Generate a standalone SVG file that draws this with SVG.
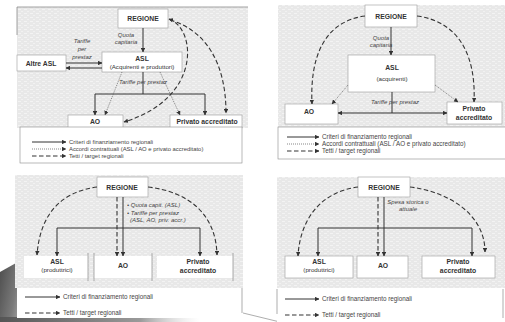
<svg xmlns="http://www.w3.org/2000/svg" width="505" height="322" viewBox="0 0 505 322">
  <defs>
    <pattern id="tex" width="6" height="4" patternUnits="userSpaceOnUse">
      <rect width="6" height="4" fill="#e8e8e8"/>
      <rect x="0" y="1" width="3" height="1" fill="#f3f3f3"/>
      <rect x="3" y="3" width="2" height="1" fill="#f1f1f1"/>
    </pattern>
    <linearGradient id="deco" x1="0" y1="0" x2="1" y2="0.4">
      <stop offset="0" stop-color="#4a4a4a"/>
      <stop offset="0.6" stop-color="#7a7a7a"/>
      <stop offset="1" stop-color="#b5b5b5"/>
    </linearGradient>
    <linearGradient id="band" x1="0" y1="0" x2="1" y2="0">
      <stop offset="0" stop-color="#555"/>
      <stop offset="0.7" stop-color="#9a9a9a"/>
      <stop offset="1" stop-color="#d8d8d8" stop-opacity="0"/>
    </linearGradient>
    <marker id="ah" viewBox="0 0 6 6" refX="5.5" refY="3" markerWidth="4.5" markerHeight="4.5" markerUnits="userSpaceOnUse" orient="auto-start-reverse">
      <path d="M0,0 L6,3 L0,6 z" fill="#333"/>
    </marker>
  </defs>
  <style>
    .bg { fill: url(#tex); }
    .box { fill: #fff; stroke: #9c9c9c; stroke-width: 0.6; }
    .leg { fill: #fff; stroke: #8a8a8a; stroke-width: 0.6; }
    .sep { stroke: #8a8a8a; stroke-width: 0.7; fill: none; }
    .ln { stroke: #333; stroke-width: 1; fill: none; }
    .dot { stroke: #555; stroke-width: 0.7; stroke-dasharray: 1 1; fill: none; }
    .dash { stroke: #333; stroke-width: 1.1; stroke-dasharray: 4.5 2.5; fill: none; }
    text { font-family: "Liberation Sans", Arial, sans-serif; fill: #333; }
    .nb { font-size: 6.8px; font-weight: bold; text-anchor: middle; }
    .nr { font-size: 6.2px; text-anchor: middle; }
    .it { font-size: 6px; font-style: italic; fill: #444; }
    .lt { font-size: 5.9px; fill: #444; }
    .lt2 { font-size: 6.3px; fill: #444; }
  </style>

  <!-- page decoration, lower left -->
  <polygon points="0,272 32,254 32,322 0,322" fill="url(#deco)"/>
  <rect x="0" y="317" width="200" height="5" fill="url(#band)"/>
  <line x1="243" y1="313" x2="280" y2="322" stroke="#777" stroke-width="0.6"/>

  <!-- ===== Panel 1: ASL acquirenti e produttori ===== -->
  <g id="panel1">
    <rect class="bg" x="17" y="7" width="231" height="121"/>
    <path d="M17,35 V7 H248" stroke="#8a8a8a" stroke-width="0.8" fill="none"/>
    <g id="p1-regione"><rect class="box" x="118" y="9" width="50" height="19"/><text class="nb" x="143" y="21">REGIONE</text></g>
    <g id="p1-asl"><rect class="box" x="102" y="52" width="80" height="20"/><text class="nb" x="142" y="61">ASL</text><text class="nr" x="142" y="69">(Acquirenti e produttori)</text></g>
    <g id="p1-altre"><rect class="box" x="17" y="55" width="49" height="16"/><text class="nb" x="41" y="65.5">Altre ASL</text></g>
    <g id="p1-ao"><rect class="box" x="68" y="115" width="55" height="13"/><text class="nb" x="95" y="124">AO</text></g>
    <g id="p1-priv"><rect class="box" x="170" y="115" width="72" height="13"/><text class="nb" x="207" y="124">Privato accreditato</text></g>
    <g id="p1-connectors">
      <line class="ln" x1="143" y1="28" x2="143" y2="52" marker-end="url(#ah)"/>
      <line class="ln" x1="66" y1="63" x2="102" y2="63" marker-end="url(#ah)"/>
      <line class="ln" x1="102" y1="68" x2="66" y2="68" marker-end="url(#ah)"/>
      <path class="ln" d="M143,72 V94"/>
      <path class="ln" d="M95,115 V94 H205 V115" marker-start="url(#ah)" marker-end="url(#ah)"/>
      <line class="dot" x1="122" y1="72" x2="105" y2="115" marker-end="url(#ah)"/>
      <line class="dot" x1="160" y1="72" x2="180" y2="115" marker-end="url(#ah)"/>
      <path class="dash" d="M169,19 C196,28 203,98 124,122" marker-start="url(#ah)" marker-end="url(#ah)"/>
      <path class="dash" d="M170,20 C205,30 226,62 226,113" marker-end="url(#ah)"/>
    </g>
    <text class="it" x="126" y="37" text-anchor="middle">Quota</text>
    <text class="it" x="126" y="44" text-anchor="middle">capitaria</text>
    <text class="it" x="82" y="43" text-anchor="middle">Tariffe</text>
    <text class="it" x="82" y="51" text-anchor="middle">per</text>
    <text class="it" x="82" y="58.5" text-anchor="middle">prestaz</text>
    <text class="it" x="143" y="84" text-anchor="middle">Tariffe per prestaz</text>
    <g id="p1-legend">
      <rect class="leg" x="20" y="127" width="222" height="36"/>
      <line class="ln" x1="32" y1="142" x2="66" y2="142" marker-end="url(#ah)"/>
      <text class="lt" x="69" y="144">Criteri di finanziamento regionali</text>
      <line class="dot" x1="32" y1="149" x2="66" y2="149" marker-end="url(#ah)"/>
      <text class="lt" x="69" y="151">Accordi contrattuali (ASL / AO e privato accreditato)</text>
      <line class="dash" x1="32" y1="156" x2="66" y2="156" marker-end="url(#ah)"/>
      <text class="lt" x="69" y="158">Tetti / target regionali</text>
    </g>
  </g>

  <!-- ===== Panel 2: ASL acquirenti ===== -->
  <g id="panel2">
    <rect class="bg" x="278" y="5" width="227" height="122"/>
    <g id="p2-regione"><rect class="box" x="365" y="5" width="52" height="22"/><text class="nb" x="391" y="19">REGIONE</text></g>
    <g id="p2-asl"><rect class="box" x="348" y="55" width="87" height="37"/><text class="nb" x="392" y="70">ASL</text><text class="nr" x="392" y="81">(acquirenti)</text></g>
    <g id="p2-ao"><rect class="box" x="285" y="104" width="53" height="20"/><text class="nb" x="309" y="114">AO</text></g>
    <g id="p2-priv"><rect class="box" x="447" y="102" width="55" height="22"/><text class="nb" x="474" y="111">Privato</text><text class="nb" x="474" y="119.5">accreditato</text></g>
    <g id="p2-connectors">
      <line class="ln" x1="391" y1="27" x2="391" y2="55" marker-end="url(#ah)"/>
      <path class="ln" d="M338,113 H447" marker-start="url(#ah)" marker-end="url(#ah)"/>
      <path class="ln" d="M392,92 V113"/>
      <line class="dot" x1="348" y1="85" x2="332" y2="104" marker-end="url(#ah)"/>
      <line class="dot" x1="435" y1="85" x2="458" y2="102" marker-end="url(#ah)"/>
      <path class="dash" d="M365,16 C322,22 310,60 312,104" marker-end="url(#ah)"/>
      <path class="dash" d="M417,16 C462,22 476,60 474,102" marker-end="url(#ah)"/>
    </g>
    <text class="it" x="381" y="40" text-anchor="middle">Quota</text>
    <text class="it" x="381" y="47" text-anchor="middle">capitaria</text>
    <text class="it" x="395" y="104" text-anchor="middle">Tariffe per prestaz</text>
    <g id="p2-legend">
      <rect class="leg" x="278" y="127" width="230" height="32"/>
      <line class="ln" x1="287" y1="137" x2="319" y2="137" marker-end="url(#ah)"/>
      <text class="lt2" x="322" y="139">Criteri di finanziamento regionali</text>
      <line class="dot" x1="287" y1="144" x2="319" y2="144" marker-end="url(#ah)"/>
      <text class="lt2" x="322" y="146">Accordi contrattuali (ASL / AO e privato accreditato)</text>
      <line class="dash" x1="287" y1="151" x2="319" y2="151" marker-end="url(#ah)"/>
      <text class="lt2" x="322" y="153">Tetti / target regionali</text>
    </g>
  </g>

  <!-- ===== Panel 3: tariffe per prestazione ===== -->
  <g id="panel3">
    <rect class="bg" x="15" y="175" width="228" height="113"/>
    <g id="p3-regione"><rect class="box" x="97" y="177" width="51" height="20"/><text class="nb" x="122" y="190">REGIONE</text></g>
    <g id="p3-asl"><rect x="24" y="256" width="64" height="22" fill="#fff"/><text class="nb" x="57" y="264">ASL</text><text class="nr" x="57" y="272">(produttrici)</text></g>
    <g id="p3-ao"><rect x="94" y="256" width="58" height="22" fill="#fff"/><text class="nb" x="123" y="268">AO</text></g>
    <g id="p3-priv"><rect x="157" y="256" width="76" height="22" fill="#fff"/><text class="nb" x="198" y="264">Privato</text><text class="nb" x="198" y="273">accreditato</text></g>
    <path class="sep" d="M88,253 V281 M94,253 V281 M152,253 V281 M233,253 V281"/>
    <g id="p3-connectors">
      <line class="dash" x1="117" y1="197" x2="117" y2="256" marker-end="url(#ah)"/>
      <line class="ln" x1="123" y1="197" x2="123" y2="256" marker-end="url(#ah)"/>
      <path class="ln" d="M57,256 V228 H200 V256" marker-start="url(#ah)" marker-end="url(#ah)"/>
      <path class="dash" d="M97,187 C60,192 40,215 37,255" marker-end="url(#ah)"/>
      <path class="dash" d="M148,187 C190,192 216,215 217,255" marker-end="url(#ah)"/>
    </g>
    <text class="it" x="127" y="207">• Quota capit. (ASL)</text>
    <text class="it" x="127" y="214.5">• Tariffe per prestaz</text>
    <text class="it" x="130" y="222">(ASL, AO, priv. accr.)</text>
    <g id="p3-legend">
      <rect x="17" y="288" width="225" height="30" fill="#fff"/>
      <line class="sep" x1="242" y1="288" x2="242" y2="313"/>
      <line class="ln" x1="25" y1="297" x2="60" y2="297" marker-end="url(#ah)"/>
      <text class="lt2" x="63" y="299">Criteri di finanziamento regionali</text>
      <line class="dash" x1="25" y1="313" x2="60" y2="313" marker-end="url(#ah)"/>
      <text class="lt2" x="63" y="315">Tetti / target regionali</text>
    </g>
  </g>

  <!-- ===== Panel 4: spesa storica ===== -->
  <g id="panel4">
    <rect class="bg" x="277" y="177" width="228" height="111"/>
    <g id="p4-regione"><rect class="box" x="358" y="177" width="52" height="20"/><text class="nb" x="384" y="190">REGIONE</text></g>
    <g id="p4-asl"><rect class="box" x="285" y="256" width="68" height="22"/><text class="nb" x="319" y="264">ASL</text><text class="nr" x="319" y="272">(produttrici)</text></g>
    <g id="p4-ao"><rect class="box" x="357" y="256" width="51" height="22"/><text class="nb" x="383" y="268">AO</text></g>
    <g id="p4-priv"><rect class="box" x="422" y="256" width="73" height="22"/><text class="nb" x="458" y="264">Privato</text><text class="nb" x="458" y="273">accreditato</text></g>
    <g id="p4-connectors">
      <line class="dash" x1="378" y1="197" x2="378" y2="256" marker-end="url(#ah)"/>
      <line class="ln" x1="384" y1="197" x2="384" y2="256" marker-end="url(#ah)"/>
      <path class="ln" d="M318,256 V228 H472 V256" marker-start="url(#ah)" marker-end="url(#ah)"/>
      <path class="dash" d="M358,187 C320,192 300,220 298,256" marker-end="url(#ah)"/>
      <path class="dash" d="M410,187 C450,192 485,215 485,252" marker-end="url(#ah)"/>
    </g>
    <text class="it" x="408" y="204" text-anchor="middle">Spesa storica o</text>
    <text class="it" x="408" y="211" text-anchor="middle">attuale</text>
    <g id="p4-legend">
      <rect x="277" y="289" width="228" height="33" fill="#fff"/>
      <path class="sep" d="M277,289 V314 M503,289 V318"/>
      <line class="ln" x1="285" y1="299" x2="319" y2="299" marker-end="url(#ah)"/>
      <text class="lt2" x="322" y="301">Criteri di finanziamento regionali</text>
      <line class="dash" x1="285" y1="315" x2="319" y2="315" marker-end="url(#ah)"/>
      <text class="lt2" x="322" y="317">Tetti / target regionali</text>
    </g>
  </g>
</svg>
